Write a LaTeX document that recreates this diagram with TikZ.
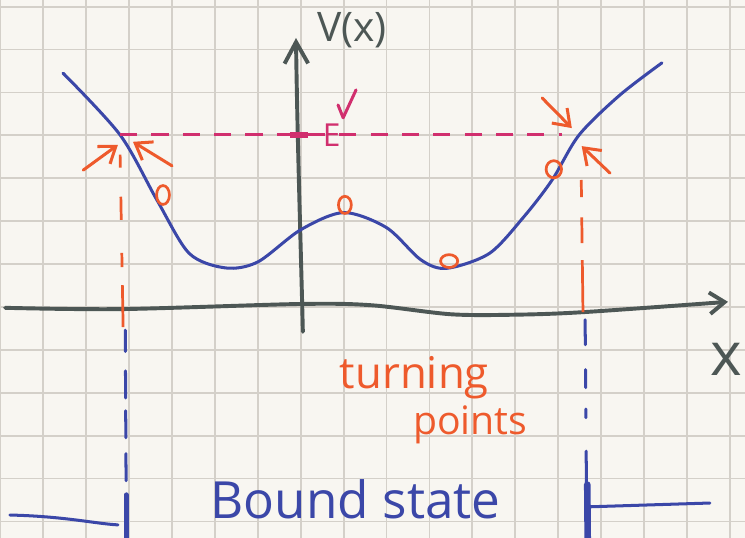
\documentclass[tikz,border=0pt]{standalone}
\usepackage{fontspec}
\setmainfont{Open Sans}
\usepackage{tikz}
\usetikzlibrary{arrows.meta,calc}
\definecolor{pblue}{HTML}{3B47A8}
\definecolor{porange}{HTML}{EE5A2C}
\definecolor{pmagenta}{HTML}{D12F6E}
\definecolor{pgray}{HTML}{4D5755}
\definecolor{ppaper}{HTML}{F8F6F1}
\definecolor{pgrid}{HTML}{D4D0C9}
\tikzset{
  >={Straight Barb[length=3.5mm,width=5mm]},
  pgridline/.style={pgrid, line width=1.2pt},
  paxis/.style={pgray, line width=2.6pt, line cap=round, line join=round, ->},
  pcurve/.style={pblue, line width=2pt, line cap=round},
  plevel/.style={pmagenta, line width=2pt, dash pattern=on 0.4cm off 0.33cm},
  pturn/.style={->, porange, line width=2pt, line cap=round, line join=round},
  pdrop/.style={porange, line width=1.8pt},
  pbound/.style={pblue, line width=2pt, line cap=round},
  pmark/.style={porange, line width=1.8pt},
  plbl/.style={inner sep=0pt},
}

\begin{document}
\begin{tikzpicture}[x=1cm,y=1cm]

  % --- papier ---
  \clip (-7.01,-5.385) rectangle (10.357,7.156);
  \fill[ppaper] (-7.01,-5.385) rectangle (10.357,7.156);
  \draw[pgridline] (-7.01,-5.385) grid (10.357,7.156);

  % --- axes ---
  \draw[paxis] plot[smooth] coordinates {(-6.89,-0.02) (-4.2,-0.05) (0,0.07)
    (1.65,0.04) (3.5,-0.17) (5.0,-0.18) (6.6,-0.12) (9.96,0.12)};
  \draw[paxis, -{Straight Barb[length=5mm,width=5.5mm]}]
    (0.05,-0.58) .. controls (0,1.5) and (-0.08,4) .. (-0.11,6.27);
  \node[pgray, plbl, font=\fontsize{27}{28}\selectfont] (vlbl) at (1.2,6.46) {V(x)};
  \node[pgray, plbl, anchor=base east, font=\fontsize{40}{40}\selectfont] (xlbl)
    at (10.3,-1.59) {x};

  % --- potencial ---
  \draw[pcurve] plot[smooth] coordinates {(-5.54,5.45) (-4.21,4.01) (-3.35,2.49)
    (-2.6,1.25) (-1.75,0.91) (-1.0,1.05) (0,1.8) (1.0,2.2) (2.0,1.85) (2.8,1.1)
    (3.4,0.9) (4.4,1.25) (5.2,2.1) (5.86,2.96) (6.49,4.01) (7.44,4.94) (8.42,5.69)};
  \coordinate (tpL) at (-4.21,4.01);
  \coordinate (tpR) at (6.49,4.01);

  % --- energia ---
  \draw[plevel] (tpL) -- ($(tpR)+(-0.4,0)$);
  \draw[pmagenta, line width=4pt] (-0.25,4.01) -- (0.18,4.01);
  \node[pmagenta, plbl, font=\fontsize{21}{22}\selectfont] (elbl) at (0.72,4.0) {E};
  \draw[pmagenta, line width=2pt, line cap=round, line join=round]
    (0.87,4.71) -- (0.99,4.41) -- (1.29,5.06);

  % --- pontos de retorno ---
  \draw[pturn] ($(tpL)+(-0.86,-0.82)$) -- ($(tpL)+(-0.05,-0.23)$);
  \draw[pturn] ($(tpL)+(1.21,-0.72)$) -- ($(tpL)+(0.30,-0.16)$);
  \draw[pturn] ($(tpR)+(-0.86,0.86)$) -- ($(tpR)+(-0.17,0.16)$);
  \draw[pturn] ($(tpR)+(0.72,-0.89)$) -- ($(tpR)+(0.06,-0.26)$);
  \draw[pdrop, dash pattern=on 0.98cm off 0.42cm on 0.33cm off 0.77cm on 0.54cm off 0.68cm on 0.3cm off 1cm]
    (-4.14,-0.47) -- ($(tpL)+(0,-0.46)$);
  \draw[pdrop, dash pattern=on 0.4cm off 0.47cm on 0.6cm off 0.4cm on 1.3cm off 1cm]
    ($(tpR)+(0.05,-1.05)$) -- (6.58,-0.12);
  \foreach \x/\y/\rx/\ry in {-3.21/2.61/0.15/0.22, 1.03/2.38/0.15/0.2,
                             3.46/1.07/0.2/0.15, 5.9/3.21/0.18/0.2}
    \draw[pmark] (\x,\y) ellipse ({\rx} and {\ry});
  \node[porange, plbl, anchor=base, font=\fontsize{29}{30}\selectfont] (turn)
    at (2.65,-1.89) {turning};
  \node[porange, plbl, anchor=base, font=\fontsize{26}{27}\selectfont] (pts)
    at (3.95,-2.98) {points};

  % --- estado ligado ---
  \draw[pbound, dash pattern=on 0.5cm off 0.45cm on 0.63cm off 0.3cm on 0.63cm off 0.37cm on 0.63cm off 1cm]
    (-4.09,-0.54) -- (-4.07,-4.2);
  \draw[pbound, line width=3.3pt] (-4.07,-4.38) -- (-4.07,-5.4);
  \draw[pbound] (-6.78,-4.85) .. controls (-5.5,-4.88) and (-4.8,-5.05) .. (-4.26,-5.08);
  \draw[pbound, dash pattern=on 0.58cm off 0.58cm on 0.42cm off 0.5cm on 0.2cm off 0.78cm on 0.72cm off 1cm]
    (6.63,-0.3) -- (6.66,-4.1);
  \draw[pbound, line width=4.4pt] (6.68,-4.14) -- (6.69,-5.4);
  \draw[pbound] (6.68,-4.66) -- (9.54,-4.57);
  \node[pblue, plbl, anchor=base, font=\fontsize{34}{35}\selectfont] (bnd)
    at (1.28,-4.92) {Bound state};

\end{tikzpicture}
\end{document}
